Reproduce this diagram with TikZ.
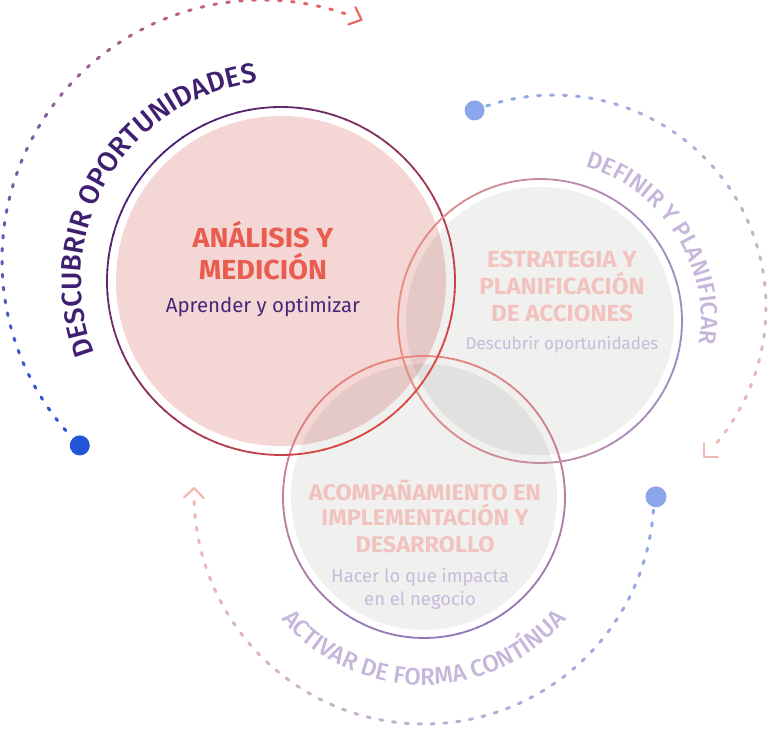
\documentclass[tikz,border=0pt]{standalone}
\usepackage{fontspec}
\setmainfont{Fira Sans}
\newfontfamily\fsbold{Fira Sans}[FakeStretch=1.04]
\newfontfamily\fsmed{Fira Sans Medium}
\usetikzlibrary{decorations.text}
\definecolor{fillA}{HTML}{F4D6D4}
\definecolor{fillG}{HTML}{F0F0EF}
\definecolor{rApur}{HTML}{4A2275}
\definecolor{rAred}{HTML}{E04840}
\definecolor{rBred}{HTML}{E98B82}
\definecolor{rBpur}{HTML}{9D8BC3}
\definecolor{rCred}{HTML}{E9857E}
\definecolor{rCpur}{HTML}{9178B9}
\definecolor{cTitle}{HTML}{E95D50}
\definecolor{cSub}{HTML}{46287A}
\definecolor{cDesc}{HTML}{3F1F6F}
\definecolor{cLtitle}{HTML}{F2C3BE}
\definecolor{cLsub}{HTML}{C8BBDC}
\definecolor{cArcText}{HTML}{C5B6DA}
\definecolor{cBlue}{HTML}{2255D8}
\definecolor{cCoral}{HTML}{EA6660}
\definecolor{cBlueL}{HTML}{8CA6EC}
\definecolor{cPinkL}{HTML}{F0B9B4}
\tikzset{
  dashseg/.style={line width=3, line cap=round},
  chev/.style={line width=2.2, line cap=round, line join=round},
  ringseg/.style={line width=1.8},
  bigtitle/.style={anchor=base, font=\fsbold\bfseries\fontsize{27.5}{27.5}\selectfont, text=cTitle},
  bsub/.style={anchor=base, font=\fontsize{20.4}{20.4}\selectfont, text=cSub},
  ltitleB/.style={anchor=base, font=\fsbold\bfseries\fontsize{23.3}{23.3}\selectfont, text=cLtitle},
  ltitleC/.style={anchor=base, font=\fsbold\bfseries\fontsize{22.6}{22.6}\selectfont, text=cLtitle},
  lsub/.style={anchor=base, text=cLsub},
}
\begin{document}
\begin{tikzpicture}[x=1pt,y=1pt]
\useasboundingbox (0,0) rectangle (768,732);
\coordinate (A) at (281,451);
\coordinate (B) at (540,411);
\coordinate (C) at (424,235);
\coordinate (UL) at (262,472);
\coordinate (R) at (554,425);
\coordinate (BT) at (424,238);

% fills
\fill[fillA] (A) circle (165);
\fill[fillG, blend mode=multiply] (B) circle (134);
\fill[fillG, blend mode=multiply] (C) circle (133);

% rings
\foreach \a in {0,4,...,356}{
  \pgfmathsetmacro\t{50*(1-cos(\a+2-135))}
  \draw[ringseg, color=rAred!\t!rApur] (A) ++(\a:174) arc[start angle=\a, end angle=\a+4.6, radius=174];
  \pgfmathsetmacro\u{50*(1-cos(\a+2-180))}
  \draw[ringseg, color=rBpur!\u!rBred] (B) ++(\a:142) arc[start angle=\a, end angle=\a+4.6, radius=142];
  \pgfmathsetmacro\w{50*(1-cos(\a+2-100))}
  \draw[ringseg, color=rCpur!\w!rCred] (C) ++(\a:141) arc[start angle=\a, end angle=\a+4.6, radius=141];
}

% dashed arc upper left
\foreach \k in {0,...,52}{
  \pgfmathsetmacro\ang{221-\k*2.865}
  \pgfmathsetmacro\t{100*\k/52}
  \draw[dashseg, color=cCoral!\t!cBlue] (UL) ++(\ang:260) arc[start angle=\ang, end angle=\ang-0.6, radius=260];
}
% dashed arc right
\foreach \k in {0,...,42}{
  \pgfmathsetmacro\ang{108.5-\k*3.51}
  \pgfmathsetmacro\t{100*\k/42}
  \draw[dashseg, color=cPinkL!\t!cBlueL] (R) ++(\ang:212) arc[start angle=\ang, end angle=\ang-0.8, radius=212];
}
% dashed arc bottom
\foreach \k in {0,...,54}{
  \pgfmathsetmacro\ang{-4-\k*3.21}
  \pgfmathsetmacro\t{100*\k/54}
  \draw[dashseg, color=cPinkL!\t!cBlueL] (BT) ++(\ang:230) arc[start angle=\ang, end angle=\ang-0.8, radius=230];
}

% chevrons
\path (UL) ++(67.5:260) coordinate (ulTip);
\draw[chev, cCoral] (ulTip) ++(115.5:14) -- (ulTip) -- ++(199.5:14);
\path (R) ++(-45:212) coordinate (rTip);
\draw[chev, cPinkL] (rTip) ++(90:14) -- (rTip) -- ++(0:14);
\path (BT) ++(178.5:230) coordinate (bTip);
\draw[chev, cPinkL] (bTip) ++(-46.5:14) -- (bTip) -- ++(-136.5:14);

% dots
\path (UL) ++(225.5:260) coordinate (ulDot);
\fill[cBlue] (ulDot) circle (10);
\path (R) ++(112:212) coordinate (rDot);
\fill[cBlueL] (rDot) circle (10);
\path (BT) ++(-0.7:232) coordinate (bDot);
\fill[cBlueL] (bDot) circle (10.5);

% curved texts
\path (A) ++(219:200) coordinate (dS);
\path[decorate, decoration={text along path, text align=center,
  text={|\fsmed\fontsize{28}{28}\selectfont\color{cDesc}|DESCUBRIR OPORTUNIDADES}}]
  (dS) arc[start angle=219, end angle=79, radius=200];
\path (B) ++(92.7:161) coordinate (fS);
\path[decorate, decoration={text along path, text align=center,
  text={|\fsmed\fontsize{23.5}{23.5}\selectfont\color{cArcText}|DEFINIR Y PLANIFICAR}}]
  (fS) arc[start angle=92.7, end angle=-27.3, radius=161];
\path (C) ++(200:188) coordinate (aS);
\path[decorate, decoration={text along path, text align=center,
  text={|\fsmed\fontsize{24}{24}\selectfont\color{cArcText}|ACTIVAR DE FORMA CONTÍNUA}}]
  (aS) arc[start angle=200, end angle=340, radius=188];

% texts circle A
\node[bigtitle] (tA1) at (263,484) {ANÁLISIS Y};
\node[bigtitle] (tA2) at (263,452) {MEDICIÓN};
\node[bsub] (tA3) at (263,419) {Aprender y optimizar};
% texts circle B
\node[ltitleB] (tB1) at (562,464) {ESTRATEGIA Y};
\node[ltitleB] (tB2) at (562,437) {PLANIFICACIÓN};
\node[ltitleB] (tB3) at (562,410) {DE ACCIONES};
\node[lsub, font=\fontsize{17}{17}\selectfont] (tB4) at (562,383) {Descubrir oportunidades};
% texts circle C
\node[ltitleC] (tC1) at (425,232) {ACOMPAÑAMIENTO EN};
\node[ltitleC] (tC2) at (425,207) {IMPLEMENTACIÓN Y};
\node[ltitleC] (tC3) at (425,180) {DESARROLLO};
\node[lsub, font=\fontsize{18.4}{18.4}\selectfont] (tC4) at (420,150) {Hacer lo que impacta};
\node[lsub, font=\fontsize{18.4}{18.4}\selectfont] (tC5) at (420,127) {en el negocio};
\end{tikzpicture}
\end{document}
